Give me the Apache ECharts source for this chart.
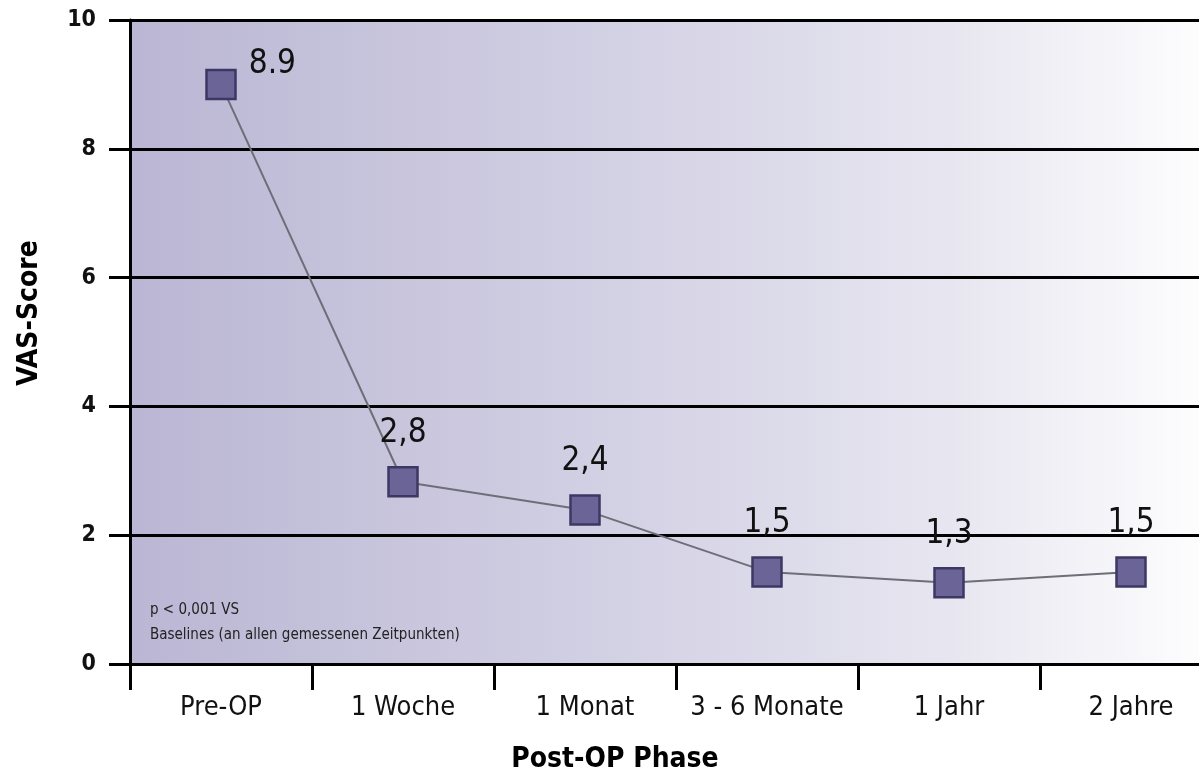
<!DOCTYPE html>
<html>
<head>
<meta charset="utf-8">
<script src="https://cdn.jsdelivr.net/npm/echarts@6/dist/echarts.min.js"></script>
<style>
html,body{margin:0;padding:0;background:#fff;overflow:hidden;width:1199px;height:782px;}
#chart{width:1222px;height:782px;}
</style>
</head>
<body>
<div id="chart"></div>
<script>
const categories = ['Pre-OP', '1 Woche', '1 Monat', '3 - 6 Monate', '1 Jahr', '2 Jahre'];
const vasValues = [9.0, 2.83, 2.39, 1.43, 1.26, 1.43];
const valueLabels = ['8.9', '2,8', '2,4', '1,5', '1,3', '1,5'];
const yTicks = [0, 2, 4, 6, 8, 10];
const footnoteLines = ['p < 0,001 VS', 'Baselines (an allen gemessenen Zeitpunkten)'];

const FONT = '"Liberation Sans Narrow", "DejaVu Sans Condensed", "Liberation Sans", sans-serif';

const chart = echarts.init(document.getElementById('chart'), null, {renderer: 'canvas'});

const seriesData = vasValues.map((v, i) => ({
  value: v,
  label: i === 0
    ? {position: 'right', distance: 12, offset: [0, -20]}
    : {position: 'top', distance: 16}
}));

chart.setOption({
  animation: false,
  backgroundColor: '#ffffff',
  grid: {
    left: 130, top: 20, bottom: 118, right: 0,
    show: true,
    borderWidth: 0,
    backgroundColor: {
      type: 'linear', x: 0, y: 0, x2: 1, y2: 0,
      colorStops: [
        {offset: 0, color: '#bab6d4'},
        {offset: 0.45, color: '#d3d1e4'},
        {offset: 0.75, color: '#e7e6f0'},
        {offset: 0.98, color: '#fdfdfe'},
        {offset: 1, color: '#ffffff'}
      ]
    }
  },
  xAxis: {
    type: 'category',
    data: categories,
    boundaryGap: true,
    axisLine: {show: true, lineStyle: {color: '#000', width: 3}},
    axisTick: {show: true, alignWithLabel: false, length: 26, lineStyle: {color: '#000', width: 3}},
    axisLabel: {
      margin: 30, color: '#111', fontFamily: FONT, fontSize: 27, interval: 0
    },
    splitLine: {show: false}
  },
  yAxis: {
    type: 'value',
    min: yTicks[0],
    max: yTicks[yTicks.length - 1],
    interval: 2,
    axisLine: {show: true, lineStyle: {color: '#000', width: 3}},
    axisTick: {show: true, length: 21, lineStyle: {color: '#000', width: 3}},
    axisLabel: {
      margin: 34, color: '#111', fontFamily: FONT, fontSize: 23, fontWeight: 'bold'
    },
    splitLine: {show: true, lineStyle: {color: '#000', width: 3}}
  },
  series: [{
    type: 'line',
    data: seriesData,
    symbol: 'rect',
    symbolSize: 29,
    lineStyle: {color: '#6e6e78', width: 2},
    itemStyle: {color: '#6b6497', borderColor: '#3c3763', borderWidth: 2.5},
    label: {
      show: true,
      fontFamily: FONT,
      fontSize: 33,
      color: '#111',
      formatter: p => valueLabels[p.dataIndex]
    },
    z: 5
  }],
  graphic: [
    {
      type: 'text',
      left: 150, top: 603,
      style: {text: footnoteLines[0], font: '15px ' + FONT, fill: '#222'}
    },
    {
      type: 'text',
      left: 150, top: 628,
      style: {text: footnoteLines[1], font: '15px ' + FONT, fill: '#222'}
    },
    {
      type: 'text',
      x: 615, y: 760,
      style: {text: 'Post-OP Phase', font: 'bold 28px ' + FONT, fill: '#000', align: 'center', verticalAlign: 'middle'}
    },
    {
      type: 'text',
      x: 30, y: 313,
      rotation: Math.PI / 2,
      style: {text: 'VAS-Score', font: 'bold 28px ' + FONT, fill: '#000', align: 'center', verticalAlign: 'middle'}
    }
  ]
});
</script>
</body>
</html>
